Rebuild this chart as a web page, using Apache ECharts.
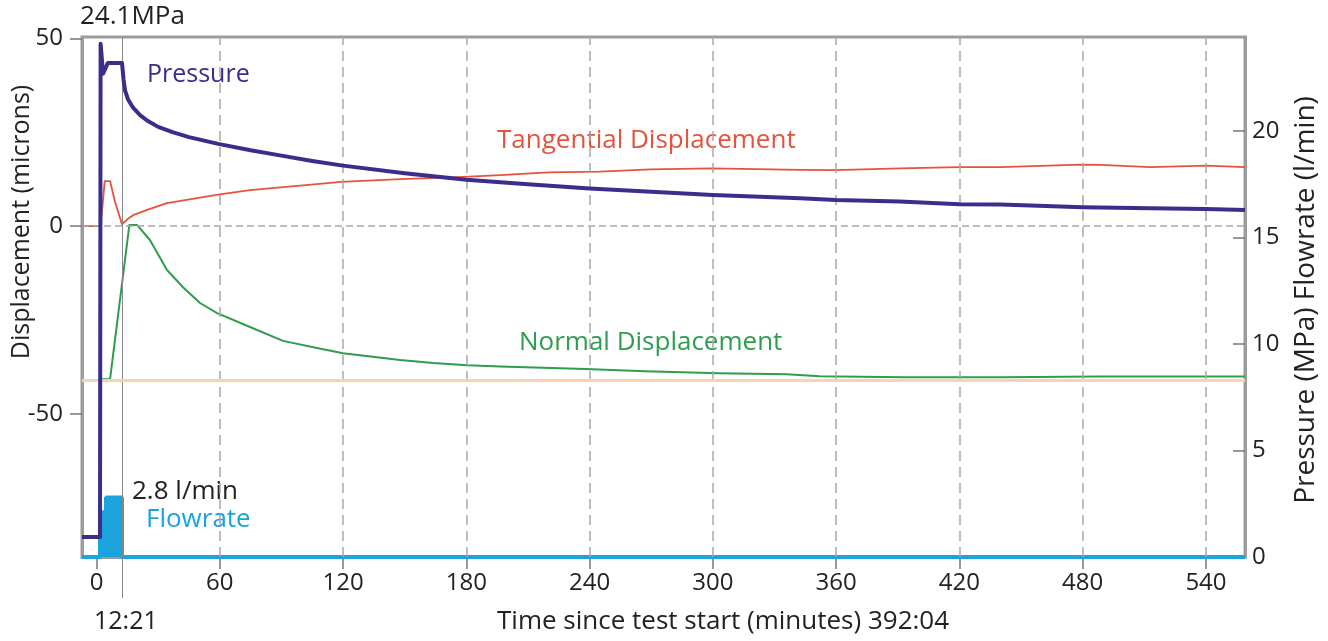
<!DOCTYPE html>
<html>
<head>
<meta charset="utf-8">
<script src="https://cdn.jsdelivr.net/npm/echarts@6/dist/echarts.min.js"></script>
<style>
  html, body { margin: 0; padding: 0; background: #fff; }
  #chart { width: 1328px; height: 641px; }
</style>
</head>
<body>
<div id="chart"></div>
<script>
// Time axis (minutes since test start)
const timeRange = [-7.06, 559];
const timeTicks = [0, 60, 120, 180, 240, 300, 360, 420, 480, 540];
const valveTime = 12.35;            // 12:21
// Left axis: displacement (microns)
const displacementRange = [-88.2, 50.4];
const displacementTicks = [-50, 0, 50];
const normalBaseline = -41.1;
// Right axis: pressure (MPa) / flowrate (l/min)
const pressureRange = [0, 24.42];
const pressureTicks = [0, 5, 10, 15, 20];

// [minutes, MPa]
const pressure = [
  [-7.06, 0.94], [1.7, 0.94], [2.0, 24.1], [3.2, 22.7], [5.5, 23.2], [12.4, 23.2],
  [13.2, 22.4], [13.9, 21.9], [15.3, 21.5], [17.8, 21.1], [21.2, 20.75], [24.6, 20.5],
  [30, 20.2], [37, 19.95], [45, 19.72], [59.2, 19.4], [75, 19.1], [90, 18.85], [105, 18.6],
  [120, 18.38], [150, 18.02], [180, 17.72], [210, 17.5], [240, 17.3], [270, 17.15],
  [300, 17.0], [342.5, 16.85], [360, 16.76], [391, 16.7], [420, 16.57], [440, 16.55],
  [480, 16.43], [513, 16.38], [540, 16.34], [559, 16.3]
];
// [minutes, l/min]
const flowrate = [
  [-7.06, 0], [1.7, 0], [1.7, 2.1], [4.6, 2.1], [4.6, 2.8], [12.4, 2.8], [12.4, 0], [559, 0]
];
// [minutes, microns]
const tangential = [
  [-7.06, 0], [2.0, 0], [4.0, 12.0], [6.6, 12.0], [9.0, 6.5], [12.4, 0.5], [15, 1.8],
  [17.8, 2.9], [24.6, 4.3], [34.3, 6.1], [50.4, 7.6], [59.2, 8.4], [74.7, 9.6],
  [99.1, 10.8], [119.1, 11.8], [147.8, 12.5], [178.9, 13.1], [196.4, 13.6], [220, 14.3],
  [245.1, 14.5], [269.5, 15.1], [299.6, 15.4], [342.5, 15.0], [359.5, 14.9], [391.2, 15.4],
  [419.4, 15.7], [439.9, 15.7], [479.3, 16.4], [488.6, 16.3], [512.9, 15.7], [540.2, 16.1],
  [559, 15.7]
];
const normal = [
  [2.0, -40.8], [3.2, -40.8], [6.6, -40.8], [16.0, 0.3], [19.7, 0.3], [26.0, -3.7],
  [34.3, -11.7], [42.1, -16.3], [50.4, -20.5], [58.7, -23.2], [74.7, -26.9], [90.8, -30.6],
  [107.3, -32.5], [120, -33.9], [147.8, -35.7], [163.9, -36.5], [180.5, -37.1],
  [196.4, -37.4], [238, -38.1], [267, -38.7], [303, -39.2], [336, -39.5], [352, -40.0],
  [393, -40.3], [440, -40.3], [488, -40.1], [559, -40.1]
];

const FONT = '"Open Sans", "Noto Sans", sans-serif';
const AXIS_GRAY = '#9c9c9c';
const COLORS = {
  pressure: '#3b2d8c',
  tangential: '#e5533d',
  normal: '#2e9d4e',
  flow: '#1ba3dd',
  baseline: '#f7d3b2'
};

function minSec(v) {
  const m = Math.floor(v);
  const s = Math.round((v - m) * 60);
  return m + ':' + String(s).padStart(2, '0');
}

const chart = echarts.init(document.getElementById('chart'), null, { renderer: 'canvas' });

// free-standing annotation, positioned by its left edge and vertical centre
const labelText = (text, x, y, color, size) => ({
  type: 'text', x: x, y: y, silent: true,
  style: { text: text, fill: color, font: `${size || 26}px ${FONT}`, align: 'left', verticalAlign: 'middle' }
});

chart.setOption({
  animation: false,
  backgroundColor: '#fff',
  textStyle: { fontFamily: FONT },
  grid: {
    left: 82, right: 83, top: 37, bottom: 84,
    show: true, borderColor: AXIS_GRAY, borderWidth: 3, backgroundColor: 'transparent'
  },
  xAxis: [
    {
      type: 'value', min: timeRange[0], max: timeRange[1],
      axisLine: { show: true, onZero: false, lineStyle: { color: AXIS_GRAY, width: 3 } },
      axisTick: { show: true, customValues: timeTicks, length: 12, lineStyle: { color: '#777', width: 1.5 } },
      axisLabel: { customValues: timeTicks, color: '#222', fontSize: 24, fontFamily: FONT, margin: 14 },
      splitLine: { show: false }
    },
    {
      type: 'value', min: timeRange[0], max: timeRange[1], position: 'bottom',
      axisLine: { show: false, onZero: false },
      axisTick: { show: true, customValues: [valveTime], length: 41, lineStyle: { color: '#888', width: 1 } },
      axisLabel: {
        customValues: [valveTime], formatter: minSec, color: '#222', fontSize: 25,
        fontFamily: FONT, margin: 52, padding: [0, 0, 0, 8]
      },
      splitLine: { show: false }
    }
  ],
  yAxis: [
    {
      type: 'value', min: displacementRange[0], max: displacementRange[1], position: 'left',
      axisLine: { show: true, onZero: false, lineStyle: { color: AXIS_GRAY, width: 3 } },
      axisTick: { show: true, customValues: displacementTicks, length: 12, lineStyle: { color: '#777', width: 1.5 } },
      axisLabel: { customValues: displacementTicks, color: '#222', fontSize: 24, fontFamily: FONT, margin: 19 },
      splitLine: { show: false }
    },
    {
      type: 'value', min: pressureRange[0], max: pressureRange[1], position: 'right',
      axisLine: { show: true, onZero: false, lineStyle: { color: AXIS_GRAY, width: 3 } },
      axisTick: { show: true, inside: true, customValues: pressureTicks, length: 12, lineStyle: { color: '#777', width: 1.5 } },
      axisLabel: { customValues: pressureTicks, color: '#222', fontSize: 24, fontFamily: FONT, margin: 7 },
      splitLine: { show: false }
    }
  ],
  series: [
    {
      // reference lines: time grid, zero displacement, valve time, normal baseline
      type: 'line', xAxisIndex: 0, yAxisIndex: 0, data: [], z: 1, silent: true,
      markLine: {
        silent: true, symbol: 'none', label: { show: false }, animation: false,
        data: [
          ...timeTicks.filter(t => t > 0).map(t => ({
            xAxis: t, lineStyle: { color: '#a8a8a8', width: 1.5, type: [10, 6] }
          })),
          { yAxis: 0, lineStyle: { color: '#a8a8a8', width: 1.5, type: [7, 4] } },
          { xAxis: valveTime, lineStyle: { color: '#888', width: 1, type: 'solid' } },
          { yAxis: normalBaseline, lineStyle: { color: COLORS.baseline, width: 3, type: 'solid' } }
        ]
      }
    },
    {
      name: 'Flowrate', type: 'line', xAxisIndex: 0, yAxisIndex: 1, data: flowrate,
      symbol: 'none', clip: false, z: 2,
      lineStyle: { color: COLORS.flow, width: 4 },
      areaStyle: { color: COLORS.flow, opacity: 1 }
    },
    {
      name: 'Normal Displacement', type: 'line', xAxisIndex: 0, yAxisIndex: 0, data: normal,
      symbol: 'none', z: 3, lineStyle: { color: COLORS.normal, width: 2, join: 'round' }
    },
    {
      name: 'Tangential Displacement', type: 'line', xAxisIndex: 0, yAxisIndex: 0, data: tangential,
      symbol: 'none', z: 4, lineStyle: { color: COLORS.tangential, width: 1.8, join: 'round' }
    },
    {
      name: 'Pressure', type: 'line', xAxisIndex: 0, yAxisIndex: 1, data: pressure,
      symbol: 'none', z: 5, lineStyle: { color: COLORS.pressure, width: 4, join: 'round' }
    }
  ],
  graphic: [
    labelText(pressure.reduce((a, b) => (b[1] > a[1] ? b : a))[1].toFixed(1) + 'MPa', 80, 17, '#222', 26),
    labelText('Pressure', 147, 75, COLORS.pressure, 25),
    labelText('Tangential Displacement', 497, 141, COLORS.tangential),
    labelText('Normal Displacement', 519, 343, COLORS.normal),
    labelText(Math.max(...flowrate.map(d => d[1])).toFixed(1) + ' l/min', 132, 492, '#222'),
    labelText('Flowrate', 146, 520, COLORS.flow),
    labelText('Time since test start (minutes) 392:04', 497, 622, '#222'),
    {
      type: 'text', x: 22, y: 222, rotation: Math.PI / 2, silent: true,
      style: { text: 'Displacement (microns)', fill: '#222', font: `25px ${FONT}`, align: 'center', verticalAlign: 'middle' }
    },
    {
      type: 'text', x: 1306, y: 300, rotation: Math.PI / 2, silent: true,
      style: { text: 'Pressure (MPa) Flowrate (l/min)', fill: '#222', font: `28px ${FONT}`, align: 'center', verticalAlign: 'middle' }
    }
  ]
});
</script>
</body>
</html>
